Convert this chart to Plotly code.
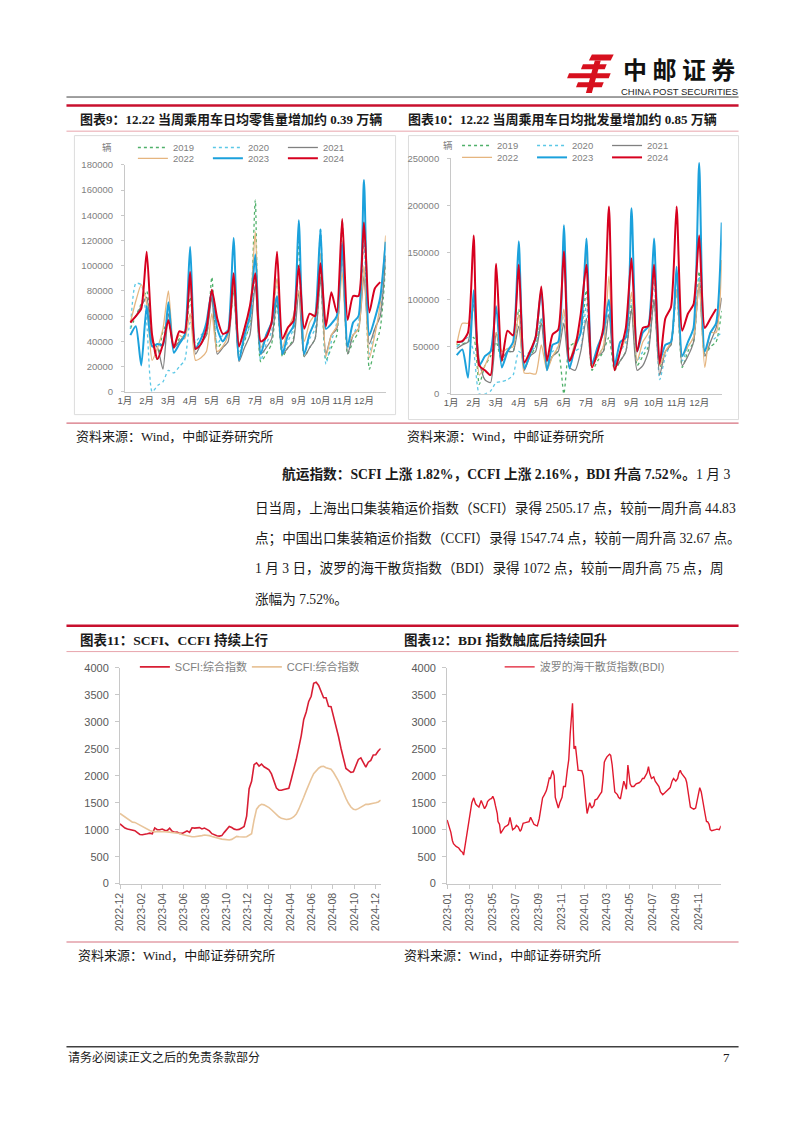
import plotly.graph_objects as go
import pandas as pd

W, H = 802, 1133
def fx(x): return x / W
def fy(y): return 1 - y / H

# ---------------- data ----------------
MONTH_LABELS = ["1月", "2月", "3月", "4月", "5月", "6月", "7月", "8月", "9月", "10月", "11月", "12月"]
WEEKS = list(range(1, 49))            # 4 weekly points per month
MONTH_TICKS = list(range(0, 48, 4))
YEARS = ["2019", "2020", "2021", "2022", "2023", "2024"]

# chart 9: daily-average retail (辆)
RETAIL_2019 = [50000, 60000, 70000, 80000, 40000, 25000, 48000, 55000, 35000, 42000, 45000, 75000,
               38000, 40000, 45000, 91000, 35000, 40000, 45000, 80000, 30000, 40000, 55000, 152000,
               24000, 30000, 38000, 70000, 28000, 35000, 42000, 119000, 28000, 35000, 42000, 95000,
               25000, 35000, 45000, 136000, 30000, 40000, 48000, 135000, 18000, 35000, 50000, 100000]
RETAIL_2020 = [50000, 86000, 85000, 55000, 0, 5000, 8000, 17000, 15000, 20000, 25000, 55000,
               40000, 45000, 50000, 75000, 38000, 45000, 50000, 80000, 32000, 42000, 52000, 90000,
               25000, 38000, 48000, 90000, 30000, 40000, 50000, 100000, 30000, 42000, 50000, 130000,
               22000, 40000, 55000, 110000, 35000, 45000, 55000, 120000, 30000, 50000, 62000, 108000]
RETAIL_2021 = [55000, 60000, 68000, 75000, 40000, 35000, 18000, 62000, 35000, 40000, 45000, 90000,
               30000, 38000, 45000, 75000, 30000, 35000, 40000, 85000, 24000, 35000, 45000, 85000,
               30000, 35000, 42000, 75000, 30000, 35000, 40000, 80000, 28000, 35000, 42000, 90000,
               30000, 45000, 50000, 112000, 30000, 45000, 50000, 92000, 38000, 50000, 60000, 108000]
RETAIL_2022 = [55000, 72000, 85000, 70000, 25000, 35000, 50000, 80000, 35000, 45000, 42000, 62000,
               25000, 27000, 32000, 62000, 32000, 36000, 45000, 85000, 38000, 50000, 65000, 127000,
               35000, 45000, 55000, 90000, 35000, 50000, 60000, 80000, 40000, 55000, 62000, 110000,
               28000, 45000, 52000, 95000, 38000, 45000, 50000, 100000, 27000, 45000, 70000, 124000]
RETAIL_2023 = [45000, 52000, 21000, 68000, 36000, 38000, 37000, 71000, 31000, 38000, 45000, 115000,
               35000, 42000, 55000, 80000, 50000, 40000, 48000, 122000, 25000, 45000, 60000, 109000,
               30000, 45000, 55000, 76000, 30000, 45000, 52000, 136000, 30000, 46000, 57000, 129000,
               50000, 54000, 60000, 118000, 36000, 55000, 60000, 168000, 45000, 58000, 75000, 119000]
RETAIL_2024 = [55000, 60000, 66000, 111000, 45000, 26000, 38000, 57000, 35000, 48000, 47000, 95000,
               34000, 38000, 50000, 81000, 58000, 46000, 48000, 94000, 36000, 50000, 68000, 94000,
               40000, 43000, 55000, 111000, 42000, 51000, 56000, 100000, 50000, 62000, 60000, 102000,
               52000, 79000, 63000, 137000, 57000, 76000, 76000, 134000, 63000, 82000, 87000]

# chart 10: daily-average wholesale (辆)
WHOLESALE_2019 = [52000, 53000, 55000, 60000, 10000, 30000, 40000, 55000, 35000, 45000, 45000, 90000,
                  30000, 40000, 50000, 80000, 35000, 40000, 45000, 0, 50000, 55000, 65000, 110000,
                  25000, 35000, 45000, 60000, 25000, 35000, 45000, 95000, 30000, 40000, 50000, 100000,
                  28000, 45000, 52000, 110000, 28000, 45000, 55000, 130000, 40000, 50000, 55000, 88000]
WHOLESALE_2020 = [50000, 55000, 60000, 45000, 0, 0, 3000, 12000, 13000, 15000, 20000, 45000,
                  40000, 45000, 50000, 80000, 40000, 45000, 50000, 85000, 35000, 45000, 50000, 95000,
                  30000, 40000, 50000, 90000, 30000, 45000, 55000, 100000, 35000, 45000, 55000, 120000,
                  15000, 40000, 55000, 110000, 35000, 50000, 60000, 125000, 45000, 55000, 60000, 65000]
WHOLESALE_2021 = [48000, 52000, 55000, 95000, 35000, 15000, 12000, 65000, 38000, 45000, 45000, 72000,
                  25000, 40000, 45000, 75000, 28000, 40000, 45000, 75000, 28000, 25000, 45000, 80000,
                  30000, 40000, 45000, 85000, 28000, 35000, 45000, 90000, 25000, 30000, 45000, 100000,
                  20000, 45000, 52000, 130000, 30000, 40000, 55000, 118000, 40000, 55000, 70000, 102000]
WHOLESALE_2022 = [52000, 75000, 75000, 90000, 20000, 30000, 45000, 65000, 45000, 48000, 50000, 85000,
                  22000, 22000, 21000, 52000, 25000, 40000, 50000, 90000, 35000, 55000, 70000, 150000,
                  30000, 40000, 50000, 125000, 30000, 45000, 60000, 108000, 35000, 55000, 65000, 138000,
                  30000, 45000, 55000, 110000, 40000, 50000, 60000, 118000, 28000, 65000, 65000, 142000]
WHOLESALE_2023 = [41000, 47000, 17000, 110000, 30000, 40000, 45000, 93000, 28000, 45000, 55000, 162000,
                  27000, 42000, 60000, 110000, 25000, 52000, 55000, 179000, 27000, 50000, 65000, 165000,
                  32000, 50000, 65000, 100000, 30000, 55000, 60000, 197000, 45000, 65000, 72000, 165000,
                  35000, 52000, 55000, 135000, 40000, 55000, 70000, 245000, 45000, 65000, 75000, 182000]
WHOLESALE_2024 = [55000, 56000, 65000, 168000, 30000, 25000, 20000, 138000, 35000, 67000, 62000, 137000,
                  33000, 45000, 60000, 114000, 35000, 63000, 68000, 151000, 35000, 50000, 85000, 137000,
                  28000, 45000, 70000, 199000, 25000, 45000, 70000, 144000, 45000, 70000, 72000, 137000,
                  32000, 80000, 92000, 199000, 67000, 85000, 95000, 168000, 70000, 80000, 90000]

# chart 11: SCFI / CCFI weekly (2022-12-30 .. 2025-01-03)
FREIGHT_DATES = pd.date_range("2022-12-30", periods=106, freq="7D")
SCFI = [1108, 1062, 1030, 1011, 1000, 995, 981, 946, 911, 906, 908, 924, 935, 923, 1033, 999, 999, 1011,
        988, 983, 1028, 970, 953, 955, 931, 931, 953, 979, 950, 1035, 1029, 1036, 1039, 1014, 1030, 1005,
        977, 926, 900, 887, 880, 890, 950, 1010, 1060, 1040, 1010, 1000, 1005, 1030, 1060, 1250, 1760,
        1896, 2206, 2239, 2179, 2217, 2167, 2140, 2109, 2034, 1903, 1772, 1732, 1730, 1745, 1759, 1768,
        1941, 2100, 2305, 2521, 2745, 3044, 3184, 3379, 3475, 3714, 3733, 3674, 3558, 3447, 3447, 3287,
        3282, 3100, 2963, 2727, 2510, 2340, 2135, 2100, 2062, 2074, 2186, 2303, 2331, 2252, 2160, 2251,
        2285, 2386, 2390, 2460, 2505]
CCFI = [1300, 1270, 1240, 1200, 1170, 1140, 1135, 1110, 1080, 1060, 1030, 1000, 985, 970, 960, 965, 960,
        958, 962, 960, 955, 950, 945, 940, 930, 910, 900, 890, 875, 868, 870, 872, 875, 890, 900, 898,
        890, 875, 860, 850, 835, 825, 820, 815, 810, 820, 845, 875, 870, 862, 865, 870, 895, 925, 1180,
        1380, 1440, 1470, 1460, 1440, 1410, 1370, 1320, 1280, 1240, 1210, 1195, 1190, 1195, 1210, 1240,
        1290, 1380, 1480, 1600, 1720, 1840, 1940, 2040, 2100, 2140, 2170, 2175, 2150, 2140, 2120, 2060,
        1990, 1900, 1800, 1680, 1580, 1490, 1420, 1380, 1370, 1390, 1420, 1450, 1470, 1470, 1475, 1490,
        1500, 1515, 1548]
FREIGHT_TICK_DATES = ["2022-12-30", "2023-02-28", "2023-04-29", "2023-06-28", "2023-08-27", "2023-10-26",
                      "2023-12-25", "2024-02-23", "2024-04-23", "2024-06-22", "2024-08-21", "2024-10-20",
                      "2024-12-19"]
FREIGHT_TICK_LABELS = ["2022-12", "2023-02", "2023-04", "2023-06", "2023-08", "2023-10", "2023-12",
                       "2024-02", "2024-04", "2024-06", "2024-08", "2024-10", "2024-12"]

# chart 12: BDI
BDI_DATES = [
    "2023-01-03", "2023-01-06", "2023-01-10", "2023-01-13", "2023-01-17", "2023-01-20", "2023-01-27",
    "2023-02-03", "2023-02-08", "2023-02-13", "2023-02-16", "2023-02-20", "2023-02-23", "2023-02-27",
    "2023-03-02", "2023-03-07", "2023-03-10", "2023-03-15", "2023-03-20", "2023-03-24", "2023-03-29",
    "2023-04-04", "2023-04-07", "2023-04-13", "2023-04-18", "2023-04-21", "2023-04-26",
    "2023-05-02", "2023-05-05", "2023-05-09", "2023-05-12", "2023-05-17", "2023-05-19", "2023-05-23", "2023-05-26", "2023-05-31",
    "2023-06-06", "2023-06-13", "2023-06-16", "2023-06-20", "2023-06-23", "2023-06-27",
    "2023-07-03", "2023-07-07", "2023-07-12", "2023-07-17", "2023-07-20", "2023-07-25", "2023-07-31",
    "2023-08-07", "2023-08-10", "2023-08-14", "2023-08-18", "2023-08-23", "2023-08-28",
    "2023-09-01", "2023-09-06", "2023-09-11", "2023-09-15", "2023-09-20", "2023-09-25", "2023-09-28",
    "2023-10-03", "2023-10-06", "2023-10-10", "2023-10-12", "2023-10-16", "2023-10-19", "2023-10-23", "2023-10-27", "2023-10-31",
    "2023-11-06", "2023-11-10", "2023-11-15", "2023-11-20", "2023-11-24", "2023-11-28",
    "2023-12-01", "2023-12-04", "2023-12-06", "2023-12-08", "2023-12-12", "2023-12-15", "2023-12-19", "2023-12-22", "2023-12-29",
    "2024-01-02", "2024-01-05", "2024-01-09", "2024-01-12", "2024-01-16", "2024-01-19", "2024-01-24", "2024-01-30",
    "2024-02-02", "2024-02-08", "2024-02-15", "2024-02-20", "2024-02-23", "2024-02-27",
    "2024-03-01", "2024-03-05", "2024-03-12", "2024-03-15", "2024-03-19", "2024-03-22", "2024-03-26",
    "2024-04-02", "2024-04-05", "2024-04-10", "2024-04-16", "2024-04-19", "2024-04-24", "2024-04-26", "2024-04-30",
    "2024-05-06", "2024-05-10", "2024-05-16", "2024-05-22", "2024-05-30",
    "2024-06-04", "2024-06-08", "2024-06-12", "2024-06-16", "2024-06-20", "2024-06-24", "2024-06-27",
    "2024-07-02", "2024-07-08", "2024-07-12", "2024-07-17", "2024-07-22", "2024-07-26",
    "2024-08-01", "2024-08-06", "2024-08-12", "2024-08-16", "2024-08-21", "2024-08-26", "2024-08-30",
    "2024-09-05", "2024-09-10", "2024-09-13", "2024-09-17", "2024-09-20", "2024-09-25",
    "2024-10-01", "2024-10-04", "2024-10-08", "2024-10-11", "2024-10-14", "2024-10-18", "2024-10-23", "2024-10-28",
    "2024-11-01", "2024-11-05", "2024-11-08", "2024-11-12", "2024-11-15", "2024-11-19", "2024-11-22", "2024-11-26", "2024-11-29",
    "2024-12-03", "2024-12-06", "2024-12-10", "2024-12-16", "2024-12-20", "2024-12-24", "2024-12-30",
    "2025-01-02", "2025-01-03"]
BDI = [
    1180, 1120, 1050, 950, 800, 740, 690,
    660, 610, 580, 530, 700, 870, 1000,
    1200, 1400, 1500, 1590, 1480, 1450, 1420,
    1540, 1480, 1390, 1450, 1520, 1560,
    1580, 1620, 1550, 1450, 1300, 1150, 1100, 930, 980,
    1050, 1080, 1100, 1230, 1120, 1000,
    1030, 1080, 1050, 970, 1000, 1120, 1130,
    1140, 1150, 1230, 1180, 1100, 1080,
    1070, 1200, 1400, 1590, 1650, 1720, 1800,
    1960, 1950, 2050, 2100, 2000, 1600, 1500, 1400, 1500,
    1600, 1800, 1800, 2100, 2300, 2800,
    3200, 3346, 2900, 2500, 2550, 2300, 2100, 2100, 2094,
    2000, 1700, 1500, 1300, 1400, 1500, 1400, 1450,
    1550, 1570, 1650, 1700, 1900, 2250,
    2300, 2350, 2400, 2380, 2200, 1900, 1700,
    1650, 1600, 1570, 1800, 1900, 1800, 1750, 2200,
    1850, 1800, 1800, 1850, 1870,
    1900, 1950, 1950, 2000, 2050, 2170, 2050,
    1950, 1980, 1900, 1850, 1800, 1700,
    1650, 1680, 1720, 1750, 1780, 1900, 1950,
    1900, 1950, 2050, 2100, 2050, 2000,
    1950, 1880, 1700, 1550, 1420, 1400, 1380, 1400,
    1550, 1650, 1780, 1700, 1550, 1450, 1300, 1150, 1150,
    1100, 1000, 980, 1000, 1000, 1010, 1000,
    1040, 1072]
BDI_TICK_DATES = ["2023-01-03", "2023-03-05", "2023-05-05", "2023-07-05", "2023-09-04", "2023-11-04",
                  "2024-01-04", "2024-03-05", "2024-05-05", "2024-07-05", "2024-09-04", "2024-11-04"]
BDI_TICK_LABELS = ["2023-01", "2023-03", "2023-05", "2023-07", "2023-09", "2023-11",
                   "2024-01", "2024-03", "2024-05", "2024-07", "2024-09", "2024-11"]

# ---------------- styles ----------------
YEAR_COLORS = ["#4fb06a", "#5bc8e6", "#808080", "#e5b57f", "#1ba1dc", "#d7001f"]
YEAR_DASH = ["dot", "dot", "solid", "solid", "solid", "solid"]
YEAR_WIDTH = [1.3, 1.3, 1.3, 1.3, 2.0, 2.0]
SANS = "Liberation Sans, Noto Sans CJK SC, sans-serif"
SERIF = "Liberation Serif, Noto Sans CJK SC, serif"
TICK_GRAY = "#595959"
AXIS_GRAY = "#c8c8c8"

fig = go.Figure()

retail = [RETAIL_2019, RETAIL_2020, RETAIL_2021, RETAIL_2022, RETAIL_2023, RETAIL_2024]
wholesale = [WHOLESALE_2019, WHOLESALE_2020, WHOLESALE_2021, WHOLESALE_2022, WHOLESALE_2023, WHOLESALE_2024]

for i, (name, vals) in enumerate(zip(YEARS, retail)):
    fig.add_trace(go.Scatter(
        x=WEEKS[:len(vals)], y=vals, name=name, mode="lines",
        line=dict(color=YEAR_COLORS[i], dash=YEAR_DASH[i], width=YEAR_WIDTH[i], shape="spline", smoothing=0.6),
        xaxis="x", yaxis="y", legend="legend" if i < 3 else "legend2"))
for i, (name, vals) in enumerate(zip(YEARS, wholesale)):
    fig.add_trace(go.Scatter(
        x=WEEKS[:len(vals)], y=vals, name=name, mode="lines",
        line=dict(color=YEAR_COLORS[i], dash=YEAR_DASH[i], width=YEAR_WIDTH[i], shape="spline", smoothing=0.6),
        xaxis="x2", yaxis="y2", legend="legend3" if i < 3 else "legend4"))

fig.add_trace(go.Scatter(x=FREIGHT_DATES, y=SCFI, name="SCFI:综合指数", mode="lines",
                         line=dict(color="#d81e34", width=1.6), xaxis="x3", yaxis="y3", legend="legend5"))
fig.add_trace(go.Scatter(x=FREIGHT_DATES, y=CCFI, name="CCFI:综合指数", mode="lines",
                         line=dict(color="#e8c49a", width=1.6), xaxis="x3", yaxis="y3", legend="legend5"))
fig.add_trace(go.Scatter(x=BDI_DATES, y=BDI, name="波罗的海干散货指数(BDI)", mode="lines",
                         line=dict(color="#e0192e", width=1.4), xaxis="x4", yaxis="y4", legend="legend6"))

def xax(domain, **kw):
    d = dict(domain=[fx(domain[0]), fx(domain[1])], showline=True, linecolor=AXIS_GRAY, linewidth=1,
             showgrid=False, zeroline=False, tickfont=dict(size=10, color=TICK_GRAY, family=SANS))
    d.update(kw)
    return d

def yax(domain, **kw):
    d = dict(domain=[fy(domain[1]), fy(domain[0])], showline=True, linecolor=AXIS_GRAY, linewidth=1,
             showgrid=False, zeroline=False, ticks="outside", ticklen=3, tickcolor=AXIS_GRAY,
             tickformat="d", tickfont=dict(size=9.5, color="#7f7f7f", family=SANS))
    d.update(kw)
    return d

def leg(x, y, size, ew):
    return dict(x=fx(x), y=fy(y), xanchor="left", yanchor="middle", orientation="h",
                bgcolor="rgba(0,0,0,0)", font=dict(size=size, color="#7f7f7f", family=SANS),
                entrywidth=ew, entrywidthmode="pixels", itemwidth=30, traceorder="normal",
                tracegroupgap=0)

MONTH_FONT = dict(size=9.5, color=TICK_GRAY, family=SANS)
fig.update_layout(
    width=W, height=H, margin=dict(l=0, r=0, t=0, b=0),
    paper_bgcolor="white", plot_bgcolor="white", showlegend=True,
    xaxis=xax((119, 382), anchor="y", range=[0, 48], tickvals=MONTH_TICKS, ticktext=MONTH_LABELS,
              ticks="", tickangle=0, tickfont=MONTH_FONT),
    yaxis=yax((160.5, 390), anchor="x", range=[0, 180000], dtick=20000, ticklabelstandoff=6),
    xaxis2=xax((448, 721), anchor="y2", range=[0, 48], tickvals=MONTH_TICKS, ticktext=MONTH_LABELS,
               ticks="", tickangle=0, tickfont=MONTH_FONT),
    yaxis2=yax((154, 392), anchor="x2", range=[0, 250000], dtick=50000, ticklabelstandoff=6),
    xaxis3=xax((114, 377), anchor="y3", type="date", range=["2022-12-30", "2025-01-03"],
               tickvals=FREIGHT_TICK_DATES, ticktext=FREIGHT_TICK_LABELS, tickangle=-90,
               ticks="outside", ticklen=4, tickcolor=AXIS_GRAY, tickfont=dict(size=10.5, color=TICK_GRAY, family=SANS)),
    yaxis3=yax((669, 887), anchor="x3", range=[0, 4000], dtick=500, ticklen=4, ticklabelstandoff=4,
               tickfont=dict(size=11, color=TICK_GRAY, family=SANS)),
    xaxis4=xax((444, 720), anchor="y4", type="date", range=["2023-01-03", "2025-01-03"],
               tickvals=BDI_TICK_DATES, ticktext=BDI_TICK_LABELS, tickangle=-90,
               ticks="outside", ticklen=4, tickcolor=AXIS_GRAY, tickfont=dict(size=10.5, color=TICK_GRAY, family=SANS)),
    yaxis4=yax((669, 887), anchor="x4", range=[0, 4000], dtick=500, ticklen=4, ticklabelstandoff=4,
               tickfont=dict(size=11, color=TICK_GRAY, family=SANS)),
    legend=leg(127, 143, 9.5, 30),
    legend2=leg(127, 154, 9.5, 30),
    legend3=leg(454, 141, 9.5, 30),
    legend4=leg(454, 153, 9.5, 30),
    legend5=leg(129, 668, 11, 67),
    legend6=leg(497, 668, 11, 120),
)

# ---------------- page decoration ----------------
shapes = []
def hline(y, x0, x1, color, width):
    shapes.append(dict(type="line", xref="paper", yref="paper", x0=fx(x0), x1=fx(x1), y0=fy(y), y1=fy(y),
                       line=dict(color=color, width=width)))
def rect(x0, y0, x1, y1, color):
    shapes.append(dict(type="rect", xref="paper", yref="paper", x0=fx(x0), x1=fx(x1), y0=fy(y1), y1=fy(y0),
                       line=dict(color=color, width=1), fillcolor="rgba(0,0,0,0)", layer="below"))
def poly(pts, color):
    path = "M " + " L ".join(f"{fx(x):.5f},{fy(y):.5f}" for x, y in pts) + " Z"
    shapes.append(dict(type="path", xref="paper", yref="paper", path=path, fillcolor=color,
                       line=dict(width=0)))

hline(92, 60, 738, "#404040", 1)
hline(100.5, 60, 738, "#c8102e", 2.5)
hline(126.5, 60, 738, "#e8a4ac", 1)
rect(68, 131, 392, 413, "#dcdcdc")
rect(405, 131, 738, 418, "#dcdcdc")
hline(421.5, 60, 738, "#d6707e", 1.2)
hline(626.5, 60, 738, "#c8102e", 2.5)
hline(652.5, 60, 738, "#e8a4ac", 1)
hline(946, 60, 738, "#d6707e", 1.2)
hline(1052, 60, 738, "#404040", 1.5)

LOGO_RED = "#d7101e"
poly([(590, 49), (612, 49), (609, 55), (587, 55)], LOGO_RED)
poly([(581, 59), (605, 59), (603, 64), (579, 64)], LOGO_RED)
poly([(567, 68), (609, 68), (607, 73), (565, 73)], LOGO_RED)
poly([(576, 77), (602, 77), (600, 82), (574, 82)], LOGO_RED)
poly([(593, 55), (599, 55), (590, 88), (584, 88)], LOGO_RED)
fig.update_layout(shapes=shapes)

ann = []
def text(x, y, s, size, family=SERIF, color="#1a1a1a", anchor="left"):
    ann.append(dict(xref="paper", yref="paper", x=fx(x), y=fy(y), text=s, showarrow=False,
                    xanchor=anchor, yanchor="middle", font=dict(size=size, family=family, color=color)))

text(678, 63, "<b>中 邮 证 券</b>", 24, family="Noto Sans CJK SC", color="#111111", anchor="center")
text(678, 86, "CHINA POST SECURITIES", 9.5, family="Liberation Sans", color="#222222", anchor="center")

text(72, 115, "<b>图表9：12.22 当周乘用车日均零售量增加约 0.39 万辆</b>", 13)
text(403, 115, "<b>图表10：12.22 当周乘用车日均批发量增加约 0.85 万辆</b>", 13)
text(101, 143, "辆", 9.5, family=SANS, color="#7f7f7f", anchor="center")
text(445, 141, "辆", 9.5, family=SANS, color="#7f7f7f", anchor="center")
text(68, 435, "资料来源：Wind，中邮证券研究所", 13)
text(402, 435, "资料来源：Wind，中邮证券研究所", 13)

text(275, 473, "<b>航运指数：SCFI 上涨 1.82%，CCFI 上涨 2.16%，BDI 升高 7.52%。</b>1 月 3", 13.7)
text(248, 507, "日当周，上海出口集装箱运价指数（SCFI）录得 2505.17 点，较前一周升高 44.83", 13.6)
text(248, 538, "点；中国出口集装箱运价指数（CCFI）录得 1547.74 点，较前一周升高 32.67 点。", 13.6)
text(248, 568, "1 月 3 日，波罗的海干散货指数（BDI）录得 1072 点，较前一周升高 75 点，周", 13.6)
text(248, 600, "涨幅为 7.52%。", 13.6)

text(72, 641, "<b>图表11：SCFI、CCFI 持续上行</b>", 13.5)
text(398, 641, "<b>图表12：BDI 指数触底后持续回升</b>", 13.5)
text(70, 960, "资料来源：Wind，中邮证券研究所", 13)
text(398, 960, "资料来源：Wind，中邮证券研究所", 13)

text(60, 1063, "请务必阅读正文之后的免责条款部分", 12)
text(726, 1063, "7", 13, anchor="center")
fig.update_layout(annotations=ann)

fig.write_html("out.html")
